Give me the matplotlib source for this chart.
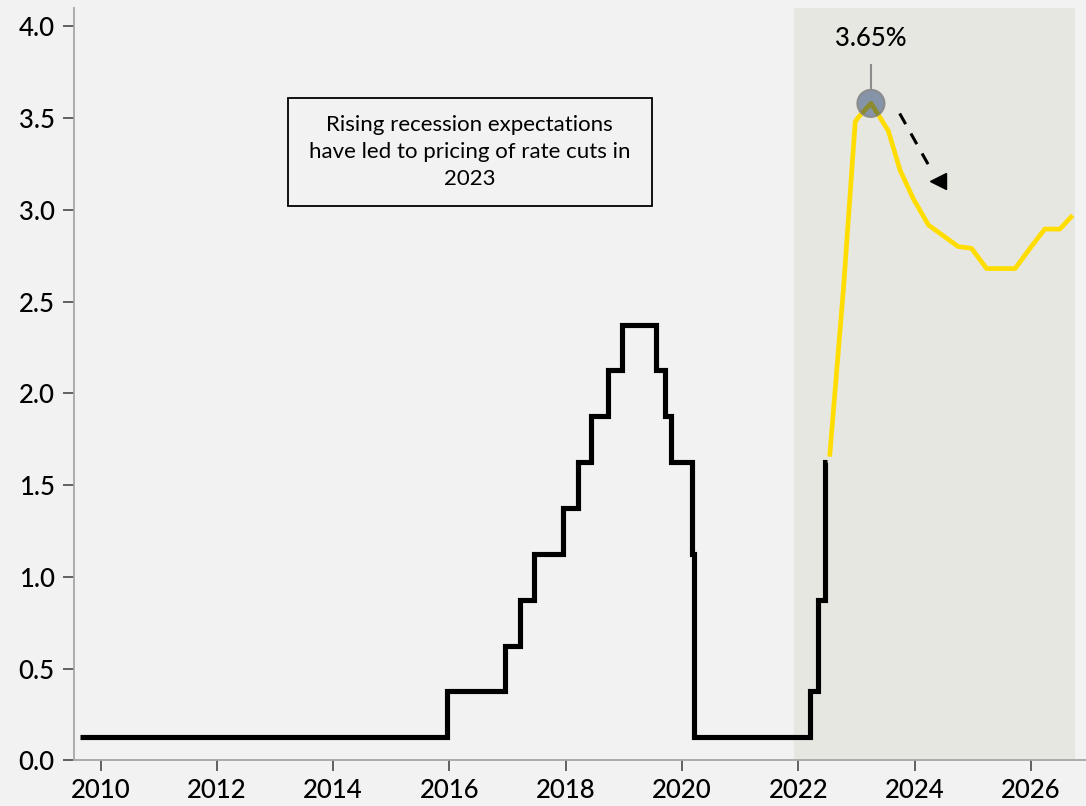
import matplotlib
matplotlib.use("Agg")
import matplotlib.pyplot as plt
from matplotlib.patches import Rectangle, Ellipse

# policy rate history (step series)
hist_dates = [2009.65, 2015.96, 2016.96, 2017.21, 2017.46, 2017.96, 2018.21, 2018.44,
              2018.73, 2018.96, 2019.56, 2019.70, 2019.81, 2020.17, 2020.21, 2022.20,
              2022.34, 2022.46, 2022.50]
hist_rate = [0.125, 0.375, 0.625, 0.875, 1.125, 1.375, 1.625, 1.875,
             2.125, 2.375, 2.125, 1.875, 1.625, 1.125, 0.125, 0.375,
             0.875, 1.625, 1.625]

# market implied path
fwd_dates = [2022.54, 2022.78, 2022.98, 2023.04, 2023.25, 2023.38, 2023.55, 2023.75,
             2023.98, 2024.24, 2024.49, 2024.75, 2024.98, 2025.24, 2025.73, 2026.01,
             2026.24, 2026.50, 2026.72]
fwd_rate = [1.655, 2.58, 3.48, 3.507, 3.58, 3.517, 3.43, 3.217,
            3.06, 2.917, 2.86, 2.80, 2.79, 2.68, 2.68, 2.80,
            2.895, 2.895, 2.97]

peak_date = 2023.25
peak_rate = 3.58
peak_label = "3.65%"
shade_start, shade_end = 2021.92, 2026.76
box_text = "Rising recession expectations\nhave led to pricing of rate cuts in\n2023"
xticks = list(range(2010, 2027, 2))
yticks = [0.0, 0.5, 1.0, 1.5, 2.0, 2.5, 3.0, 3.5, 4.0]

bg = "#f2f2f2"
tick_font = "Lato"

fig = plt.figure(figsize=(10.86, 8.06), dpi=100, facecolor=bg)
ax = fig.add_axes([0.0684, 0.0567, 0.9316, 0.9334])
ax.set_facecolor(bg)

ax.axvspan(shade_start, shade_end, color="#e7e7e2", lw=0, zorder=0)

ax.step(hist_dates, hist_rate, where="post", color="black", lw=3.7,
        solid_capstyle="butt", solid_joinstyle="miter", zorder=3)
ax.plot(fwd_dates, fwd_rate, color="#ffdd00", lw=3.4, solid_capstyle="butt", zorder=3)

# peak marker
circ = Ellipse((peak_date, peak_rate), 27 / 58.125, 27 / 183.5,
               facecolor="#8594a8", edgecolor="#8c8c8c", lw=1.5, zorder=4)
ax.add_patch(circ)
inner, = ax.plot(fwd_dates, fwd_rate, color="#8c8a2e", lw=3.4, zorder=5)
inner.set_clip_path(circ)
ax.plot([peak_date, peak_date], [3.79, 3.655], color="#8c8c8c", lw=1.5, zorder=4)
ax.text(peak_date, 3.936, peak_label, ha="center", va="center",
        fontsize=18.5, family=tick_font, weight="medium", color="black")

# dashed arrow
ax.plot([2023.745, 2024.31], [3.525, 3.205], color="black", lw=2.2,
        dashes=(4, 3.5), zorder=4)
ax.plot([2024.40], [3.157], marker="<", color="black", ms=11, zorder=4)

# annotation box
ax.add_patch(Rectangle((0.2112, 0.7368), 0.3598, 0.1436, transform=ax.transAxes,
                       facecolor=bg, edgecolor="black", lw=1.3, zorder=6))
ax.text(0.391, 0.8086, box_text, transform=ax.transAxes, ha="center", va="center",
        multialignment="center", fontsize=16, family="Lato", linespacing=1.45,
        zorder=7)

ax.set_xlim(2009.545, 2026.95)
ax.set_ylim(0, 4.1)
ax.set_xticks(xticks)
ax.set_yticks(yticks)
ax.set_yticklabels(["%.1f" % v for v in yticks])

for s in ["top", "right"]:
    ax.spines[s].set_visible(False)
for s in ["left", "bottom"]:
    ax.spines[s].set_color("#a6a6a6")
    ax.spines[s].set_linewidth(1.3)

ax.tick_params(axis="both", length=8, width=1.3, color="#555555", labelsize=18.5, pad=6)
ax.tick_params(axis="x", pad=5)
for lab in ax.get_xticklabels() + ax.get_yticklabels():
    lab.set_family(tick_font)
    lab.set_weight("medium")

fig.savefig("out.png", dpi=100, facecolor=bg)
